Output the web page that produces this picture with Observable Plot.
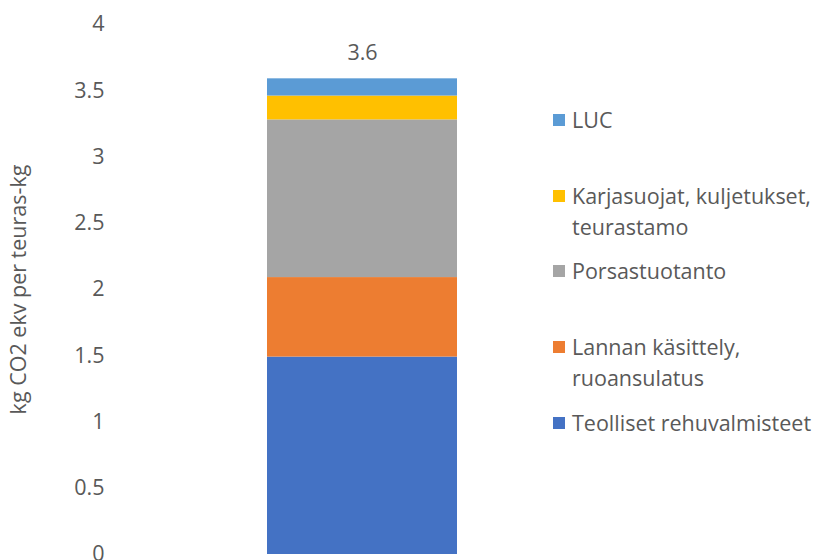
<!DOCTYPE html>
<html>
<head>
<meta charset="utf-8">
<script src="https://cdn.jsdelivr.net/npm/d3@7"></script>
<script src="https://cdn.jsdelivr.net/npm/@observablehq/plot@0.6"></script>
<style>
  html, body { margin: 0; padding: 0; background: #fff; }
  #wrap { position: relative; width: 815px; height: 560px; font-family: "Open Sans", sans-serif; }
  #legend { position: absolute; left: 553px; top: 104px; width: 262px; color: #595959; font-size: 21.5px; line-height: 31px; }
  .item { position: relative; height: 75.7px; padding-left: 19px; }
  .sw { position: absolute; left: 0; top: 10px; width: 12px; height: 12px; }
</style>
</head>
<body>
<div id="wrap"></div>
<script>
const category = "Sianliha";
const series = ["Teolliset rehuvalmisteet", "Lannan käsittely, ruoansulatus", "Porsastuotanto", "Karjasuojat, kuljetukset, teurastamo", "LUC"];
const values = [1.49, 0.60, 1.19, 0.18, 0.13];
const colors = ["#4472C4", "#ED7D31", "#A5A5A5", "#FFC000", "#5B9BD5"];
const yTicks = [0, 0.5, 1, 1.5, 2, 2.5, 3, 3.5, 4];
const yLabel = "kg CO2 ekv per teuras-kg";

const data = series.map((s, i) => ({cat: category, series: s, value: values[i]}));
const total = d3.sum(values);
const totals = [{cat: category, total, label: total.toFixed(1)}];

const plot = Plot.plot({
  width: 815,
  height: 560,
  marginLeft: 267,
  marginRight: 358,
  marginTop: 24,
  marginBottom: 6,
  style: {fontFamily: "'Open Sans', sans-serif", fontSize: "21.5px", color: "#595959", background: "#fff"},
  x: {domain: [category], padding: 0, axis: null},
  y: {domain: [0, 4]},
  color: {domain: series, range: colors},
  marks: [
    Plot.barY(data, {x: "cat", y: "value", fill: "series", order: null}),
    Plot.text(totals, {x: "cat", y: "total", text: "label", dy: -26, fill: "#595959", fontSize: 21.5}),
    Plot.axisY({ticks: yTicks, tickSize: 0, tickPadding: 163, tickFormat: d => String(d), fill: "#595959", fontSize: 21.5,
      label: yLabel, labelAnchor: "center", labelOffset: 257, labelArrow: "none"})
  ]
});
document.getElementById("wrap").appendChild(plot);

const legend = document.createElement("div");
legend.id = "legend";
series.slice().reverse().forEach(s => {
  const i = series.indexOf(s);
  const item = document.createElement("div");
  item.className = "item";
  const sw = document.createElement("span");
  sw.className = "sw";
  sw.style.background = colors[i];
  item.appendChild(sw);
  item.appendChild(document.createTextNode(s));
  legend.appendChild(item);
});
document.getElementById("wrap").appendChild(legend);
</script>
</body>
</html>
